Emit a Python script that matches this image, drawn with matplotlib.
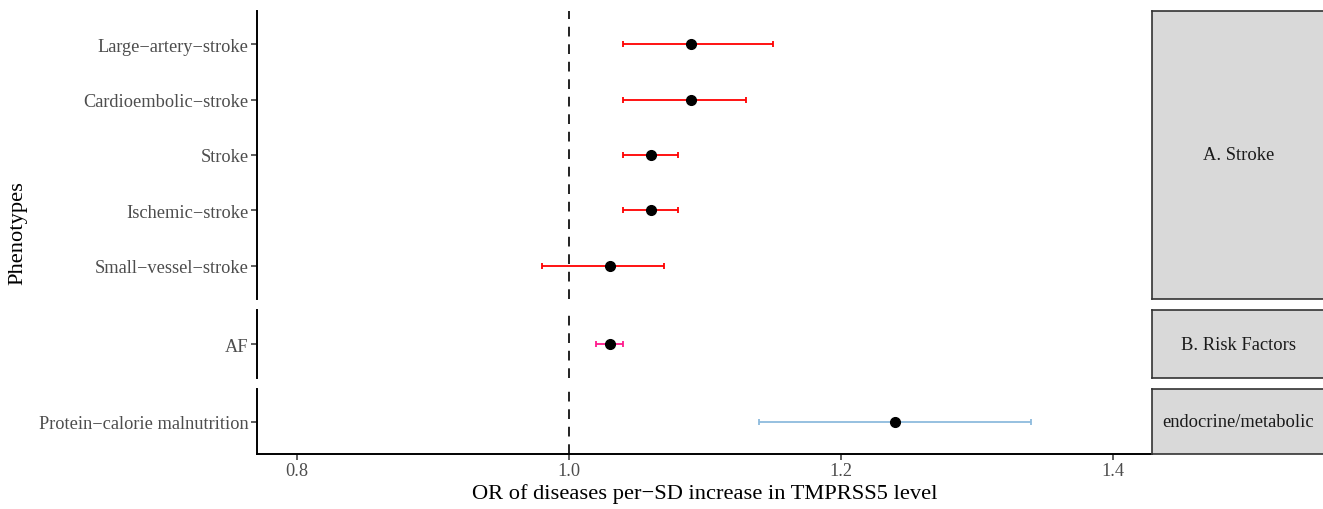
import matplotlib
matplotlib.use("Agg")
import matplotlib.pyplot as plt

# ---- data ----
groups = ["A. Stroke", "B. Risk Factors", "endocrine/metabolic"]
phen_stroke = ["Large\u2212artery\u2212stroke", "Cardioembolic\u2212stroke", "Stroke",
               "Ischemic\u2212stroke", "Small\u2212vessel\u2212stroke"]
or_stroke = [1.09, 1.09, 1.06, 1.06, 1.03]
lo_stroke = [1.04, 1.04, 1.04, 1.04, 0.98]
hi_stroke = [1.15, 1.13, 1.08, 1.08, 1.07]

phen_risk = ["AF"]
or_risk = [1.03]
lo_risk = [1.02]
hi_risk = [1.04]

phen_endo = ["Protein\u2212calorie malnutrition"]
or_endo = [1.24]
lo_endo = [1.14]
hi_endo = [1.34]

x_ticks = [0.8, 1.0, 1.2, 1.4]

colors = ["#FF0000", "#FF1A8C", "#8DBBDD"]

plt.rcParams['font.family'] = ['Liberation Serif', 'DejaVu Serif']

W, H = 1323, 510
fig = plt.figure(figsize=(W / 100, H / 100), dpi=100)

def ax_px(x0, y0, x1, y1):
    return fig.add_axes([x0 / W, 1 - y1 / H, (x1 - x0) / W, (y1 - y0) / H])

panels = [
    (12, 300, phen_stroke, or_stroke, lo_stroke, hi_stroke),
    (311, 379, phen_risk, or_risk, lo_risk, hi_risk),
    (390, 455, phen_endo, or_endo, lo_endo, hi_endo),
]
xl, xr = 257, 1152
xmin = 0.8 - 40 / 1360
xmax = 1.4 + 39 / 1360
grey = "#4D4D4D"

for i, (y0, y1, names, ors, los, his) in enumerate(panels):
    ax = ax_px(xl, y0, xr, y1)
    n = len(names)
    ypos = list(range(n, 0, -1))
    ax.set_xlim(xmin, xmax)
    ax.set_ylim(0.4, n + 0.6)
    ax.axvline(1.0, color="#222222", ls=(0, (5, 4)), lw=1.4, zorder=1)
    for y, o, l, h in zip(ypos, ors, los, his):
        ax.errorbar([o], [y], xerr=[[o - l], [h - o]], fmt="none", ecolor=colors[i],
                    elinewidth=1.3, capsize=2.2, capthick=1.3, zorder=2)
        ax.plot([o], [y], "o", color="black", ms=7, zorder=3)
    ax.set_yticks(ypos)
    ax.set_yticklabels(names, fontsize=13.2, color=grey)
    for s in ["top", "right"]:
        ax.spines[s].set_visible(False)
    ax.spines["left"].set_linewidth(1.4)
    ax.spines["left"].set_color("black")
    ax.tick_params(axis="y", length=4, width=1.1, color="#333333", pad=2)
    if i < 2:
        ax.spines["bottom"].set_visible(False)
        ax.set_xticks([])
    else:
        ax.spines["bottom"].set_linewidth(1.4)
        ax.set_xticks(x_ticks)
        ax.set_xticklabels([f"{t:.1f}" for t in x_ticks], fontsize=13.2, color=grey)
        ax.tick_params(axis="x", length=4, width=1.1, color="#333333", pad=2)
        ax.set_xlabel("OR of diseases per\u2212SD increase in TMPRSS5 level",
                      fontsize=16.2, labelpad=3)
    # strip
    sx = ax_px(xr, y0, W + 2, y1)
    sx.set_facecolor("#D9D9D9")
    sx.set_xticks([]); sx.set_yticks([])
    for s in sx.spines.values():
        s.set_color("#333333"); s.set_linewidth(1.2)
    sx.text(0.5, 0.5, groups[i], transform=sx.transAxes, ha="center", va="center",
            fontsize=13.3, color="#1A1A1A")

fig.text(18 / W, 1 - 233 / H, "Phenotypes", rotation=90, ha="center", va="center",
         fontsize=16.2)

fig.savefig("out.png", dpi=100)
